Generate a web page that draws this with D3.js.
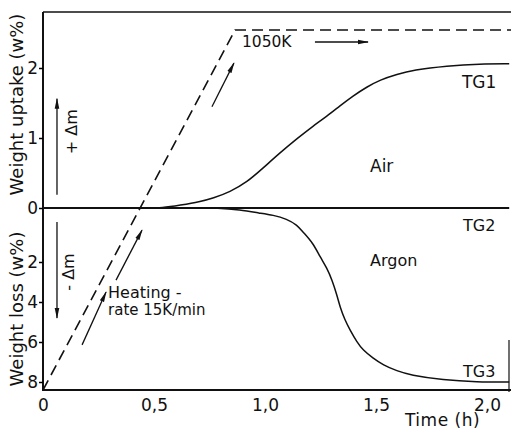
<!DOCTYPE html>
<html>
<head>
<meta charset="utf-8">
<script src="https://cdn.jsdelivr.net/npm/d3@7"></script>
<style>
  body { margin: 0; background: #fff; }
  svg { display: block; }
  text { font-family: "DejaVu Sans", sans-serif; fill: #111; }
</style>
</head>
<body>
<script>
// time axis (h)
const timeTicks = [0, 0.5, 1.0, 1.5, 2.0];
const upTicks = [0, 1, 2];
const lossTicks = [2, 4, 6, 8];

// TG1 - air, weight uptake (w%)
const tg1Time = [0.45, 0.541, 0.617, 0.707, 0.766, 0.842, 0.919, 0.991, 1.068, 1.144, 1.216, 1.279, 1.338, 1.396, 1.459, 1.518, 1.595, 1.667, 1.82, 1.968, 2.10];
const tg1Up   = [0.0, 0.0, 0.04, 0.09, 0.14, 0.23, 0.37, 0.57, 0.79, 0.99, 1.17, 1.31, 1.46, 1.60, 1.73, 1.83, 1.91, 1.97, 2.03, 2.06, 2.06];

// TG2 - reference, no change
const tg2Time = [0, 2.10];
const tg2Val  = [0, 0];

// TG3 - argon, weight loss (w%)
const tg3Time = [0.70, 0.784, 0.887, 0.977, 1.036, 1.099, 1.144, 1.171, 1.216, 1.248, 1.279, 1.302, 1.324, 1.338, 1.360, 1.383, 1.414, 1.441, 1.486, 1.532, 1.595, 1.653, 1.802, 1.955, 2.10];
const tg3Loss = [0, 0, 0.07, 0.19, 0.26, 0.41, 0.63, 0.89, 1.30, 1.81, 2.3, 2.9, 3.65, 4.25, 4.9, 5.4, 6.0, 6.4, 6.8, 7.15, 7.45, 7.65, 7.9, 8.0, 8.0];

// furnace temperature program (K), 15 K/min up to 1050 K
const tempTime = [0, 0.865, 2.11];
const tempK    = [300, 1050, 1050];

const width = 511;
const height = 434;

const svg = d3.select('body').append('svg')
  .attr('width', width)
  .attr('height', height);

const x = d3.scaleLinear().domain([0, 2]).range([43, 487]);
const yUp = d3.scaleLinear().domain([0, 2]).range([208, 68]);
// hand-drawn lower scale is not quite linear near zero
const yLoss = d3.scaleLinear().domain([0, 2, 8]).range([208, 262, 382]);
const yTemp = d3.scaleLinear().domain([300, 1050]).range([390, 30]);

const plotLeft = 43, plotRight = 511, plotTop = 12, plotBottom = 390;

// arrow head
svg.append('defs').append('marker')
  .attr('id', 'head')
  .attr('viewBox', '0 -3 11 6')
  .attr('refX', 10).attr('refY', 0)
  .attr('markerWidth', 11).attr('markerHeight', 6)
  .attr('markerUnits', 'userSpaceOnUse')
  .attr('orient', 'auto')
  .append('path')
  .attr('d', 'M0,-2.3L11,0L0,2.3Z')
  .attr('fill', '#111');

// frame
const frame = svg.append('g').attr('stroke', '#111').attr('fill', 'none');
frame.append('line').attr('x1', plotLeft).attr('x2', plotLeft).attr('y1', plotTop).attr('y2', plotBottom + 1).attr('stroke-width', 2);
frame.append('line').attr('x1', plotLeft - 1).attr('x2', plotRight).attr('y1', plotBottom).attr('y2', plotBottom).attr('stroke-width', 2);
frame.append('line').attr('x1', plotLeft).attr('x2', plotRight).attr('y1', plotTop).attr('y2', plotTop).attr('stroke-width', 1.5);
frame.append('line').attr('x1', 509).attr('x2', 509).attr('y1', 340).attr('y2', plotBottom + 2).attr('stroke-width', 1.2);

// axes
const tickFont = g => g.selectAll('text').style('font-size', '17px').style('font-family', '"DejaVu Sans", sans-serif');

svg.append('g')
  .attr('transform', `translate(${plotLeft},0)`)
  .call(d3.axisLeft(yUp).tickValues(upTicks).tickSize(4).tickPadding(1).tickFormat(d3.format('d')))
  .call(g => g.select('.domain').remove())
  .call(g => g.selectAll('line').attr('stroke-width', 1.5))
  .call(tickFont);

svg.append('g')
  .attr('transform', `translate(${plotLeft},0)`)
  .call(d3.axisLeft(yLoss).tickValues(lossTicks).tickSize(4).tickPadding(1).tickFormat(d3.format('d')))
  .call(g => g.select('.domain').remove())
  .call(g => g.selectAll('line').attr('stroke-width', 1.5))
  .call(tickFont);

svg.append('g')
  .attr('transform', `translate(0,${plotBottom})`)
  .call(d3.axisBottom(x).tickValues(timeTicks).tickSize(0).tickPadding(9)
    .tickFormat(d => d === 0 ? '0' : d3.format('.1f')(d).replace('.', ',')))
  .call(g => g.select('.domain').remove())
  .call(tickFont);

// axis titles
svg.append('text')
  .attr('transform', `translate(23,${(plotTop + 197) / 2}) rotate(-90)`)
  .attr('text-anchor', 'middle')
  .style('font-size', '18px')
  .text('Weight uptake (w%)');

svg.append('text')
  .attr('transform', `translate(23,309) rotate(-90)`)
  .attr('text-anchor', 'middle')
  .style('font-size', '18px')
  .text('Weight loss (w%)');

svg.append('text')
  .attr('x', 405).attr('y', 426)
  .style('font-size', '17px')
  .style('letter-spacing', '0.5px')
  .text('Time  (h)');

// curves
const lineUp = d3.line().x(d => x(d[0])).y(d => yUp(d[1])).curve(d3.curveBasis);
const lineLoss = d3.line().x(d => x(d[0])).y(d => yLoss(d[1])).curve(d3.curveBasis);
const lineTemp = d3.line().x(d => x(d[0])).y(d => yTemp(d[1]));

svg.append('path')
  .datum(d3.zip(tg2Time, tg2Val))
  .attr('d', lineUp)
  .attr('fill', 'none').attr('stroke', '#111').attr('stroke-width', 2);

svg.append('path')
  .datum(d3.zip(tg1Time, tg1Up))
  .attr('d', lineUp)
  .attr('fill', 'none').attr('stroke', '#111').attr('stroke-width', 1.5);

svg.append('path')
  .datum(d3.zip(tg3Time, tg3Loss))
  .attr('d', lineLoss)
  .attr('fill', 'none').attr('stroke', '#111').attr('stroke-width', 1.5);

svg.append('path')
  .datum(d3.zip(tempTime, tempK))
  .attr('d', lineTemp)
  .attr('fill', 'none').attr('stroke', '#111').attr('stroke-width', 1.6)
  .attr('stroke-dasharray', '11,6');

// annotation arrows, ends given in scale units
function arrow(x1, y1, x2, y2, ys) {
  svg.append('line')
    .attr('x1', x(x1)).attr('y1', ys(y1))
    .attr('x2', x(x2)).attr('y2', ys(y2))
    .attr('stroke', '#111').attr('stroke-width', 1.3)
    .attr('marker-end', 'url(#head)');
}
arrow(0.176, 394, 0.284, 504, yTemp);
arrow(0.329, 529, 0.446, 633, yTemp);
arrow(0.761, 890, 0.860, 981, yTemp);
arrow(1.225, 1025, 1.464, 1025, yTemp);
arrow(0.063, 0.19, 0.063, 1.56, yUp);
arrow(0.063, 0.52, 0.063, 4.8, yLoss);

// labels
function label(t, px, py, size) {
  svg.append('text').attr('x', px).attr('y', py).style('font-size', size + 'px').text(t);
}
label('1050K', x(0.896), yTemp(1014), 15.5);
label('TG1', x(1.887), yUp(1.71), 17);
label('Air', x(1.473), yUp(0.51), 17);
label('TG2', x(1.892), yLoss(0.85), 16);
label('Argon', x(1.473), yLoss(2.2), 16);
label('TG3', x(1.892), yLoss(7.75), 16);
label('Heating -', x(0.293), yLoss(3.8), 16);
label('rate 15K/min', x(0.293), yLoss(4.65), 15);

svg.append('text')
  .attr('transform', `translate(${x(0.131) + 5},${yUp(1.09)}) rotate(-90)`)
  .attr('text-anchor', 'middle')
  .style('font-size', '16px')
  .text('+ Δm');

svg.append('text')
  .attr('transform', `translate(${x(0.117) + 5},${yLoss(2.5)}) rotate(-90)`)
  .attr('text-anchor', 'middle')
  .style('font-size', '16px')
  .text('- Δm');
</script>
</body>
</html>
